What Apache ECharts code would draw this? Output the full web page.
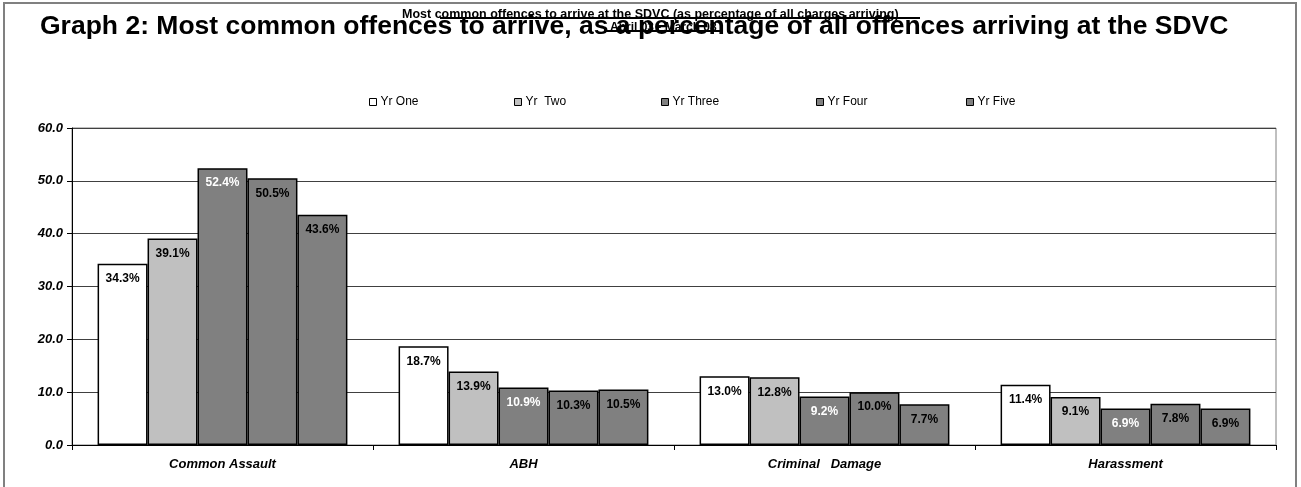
<!DOCTYPE html>
<html>
<head>
<meta charset="utf-8">
<script src="https://cdn.jsdelivr.net/npm/echarts@6/dist/echarts.min.js"></script>
<style>
html,body{margin:0;padding:0;background:#fff;}
#chart{width:1301px;height:487px;}
</style>
</head>
<body>
<div id="chart"></div>
<script>
const categories = ['Common Assault', 'ABH', 'Criminal   Damage', 'Harassment'];
const seriesNames = ['Yr One', 'Yr  Two', 'Yr Three', 'Yr Four', 'Yr Five'];
const yrOne = [34.3, 18.7, 13.0, 11.4];
const yrTwo = [39.1, 13.9, 12.8, 9.1];
const yrThree = [52.4, 10.9, 9.2, 6.9];
const yrFour = [50.5, 10.3, 10.0, 7.8];
const yrFive = [43.6, 10.5, 7.7, 6.9];
const yTicks = [0, 10, 20, 30, 40, 50, 60];

const seriesValues = [yrOne, yrTwo, yrThree, yrFour, yrFive];
const fills = ['#ffffff', '#c0c0c0', '#808080', '#808080', '#808080'];
const labelColors = ['#000', '#000', '#fff', '#000', '#000'];
const legendLefts = [364, 509, 656, 811, 961];
const FONT = '"Liberation Sans", Arial, sans-serif';

const chart = echarts.init(document.getElementById('chart'));
chart.setOption({
  animation: false,
  backgroundColor: '#fff',
  textStyle: { fontFamily: FONT },
  title: [
    {
      text: 'Graph 2: Most common offences to arrive, as a percentage of all offences arriving at the SDVC',
      left: 35, top: 8,
      textStyle: { fontFamily: FONT, fontSize: 26.5, fontWeight: 'bold', color: '#000' }
    },
    {
      text: 'Most common offences to arrive at the SDVC (as percentage of all charges arriving)',
      left: 397, top: 3,
      textStyle: { fontFamily: FONT, fontSize: 12.5, fontWeight: 'bold', color: '#000' }
    },
    {
      text: 'April 03 - March 08',
      left: 605, top: 17,
      textStyle: { fontFamily: FONT, fontSize: 12, fontWeight: 'bold', color: '#000' }
    }
  ],
  graphic: [
    { type: 'rect', shape: { x: 4, y: 3, width: 1292, height: 500 }, style: { fill: 'none', stroke: '#808080', lineWidth: 2 }, silent: true },
    { type: 'line', shape: { x1: 440, y1: 18, x2: 920, y2: 18 }, style: { stroke: '#000', lineWidth: 2 }, silent: true },
    { type: 'line', shape: { x1: 605, y1: 31, x2: 720, y2: 31 }, style: { stroke: '#000', lineWidth: 2 }, silent: true }
  ],
  legend: seriesNames.map((name, i) => ({
    top: 91, left: legendLefts[i],
    itemWidth: 7, itemHeight: 7, itemGap: 0,
    icon: 'rect',
    data: [name],
    itemStyle: { borderColor: '#000', borderWidth: 1 },
    textStyle: { fontFamily: FONT, fontSize: 12, color: '#000', padding: [0, 0, 0, -1] }
  })),
  grid: { left: 72, right: 25, top: 128, bottom: 42, show: true, borderColor: '#808080', borderWidth: 1 },
  xAxis: {
    type: 'category',
    data: categories,
    axisLine: { lineStyle: { color: '#000', width: 1 } },
    axisTick: { show: true, length: 5, lineStyle: { color: '#000' } },
    axisLabel: { fontFamily: FONT, fontSize: 13, fontWeight: 'bold', fontStyle: 'italic', color: '#000', margin: 13 }
  },
  yAxis: {
    type: 'value',
    min: yTicks[0], max: yTicks[yTicks.length - 1], interval: 10,
    axisLine: { show: true, lineStyle: { color: '#000', width: 1 } },
    axisTick: { show: true, length: 5, lineStyle: { color: '#000' } },
    axisLabel: { fontFamily: FONT, fontSize: 13, fontWeight: 'bold', fontStyle: 'italic', color: '#000', margin: 9,
      formatter: v => v.toFixed(1) },
    splitLine: { show: true, lineStyle: { color: '#404040', width: 1 } }
  },
  series: seriesNames.map((name, i) => ({
    name,
    type: 'bar',
    data: seriesValues[i],
    barGap: '0%',
    barCategoryGap: '17%',
    itemStyle: { color: fills[i], borderColor: '#000', borderWidth: 1.5 },
    label: {
      show: true, position: 'insideTop', distance: 9,
      fontFamily: FONT, fontSize: 12, fontWeight: 'bold', color: labelColors[i],
      formatter: p => p.value.toFixed(1) + '%'
    }
  }))
});
</script>
</body>
</html>
